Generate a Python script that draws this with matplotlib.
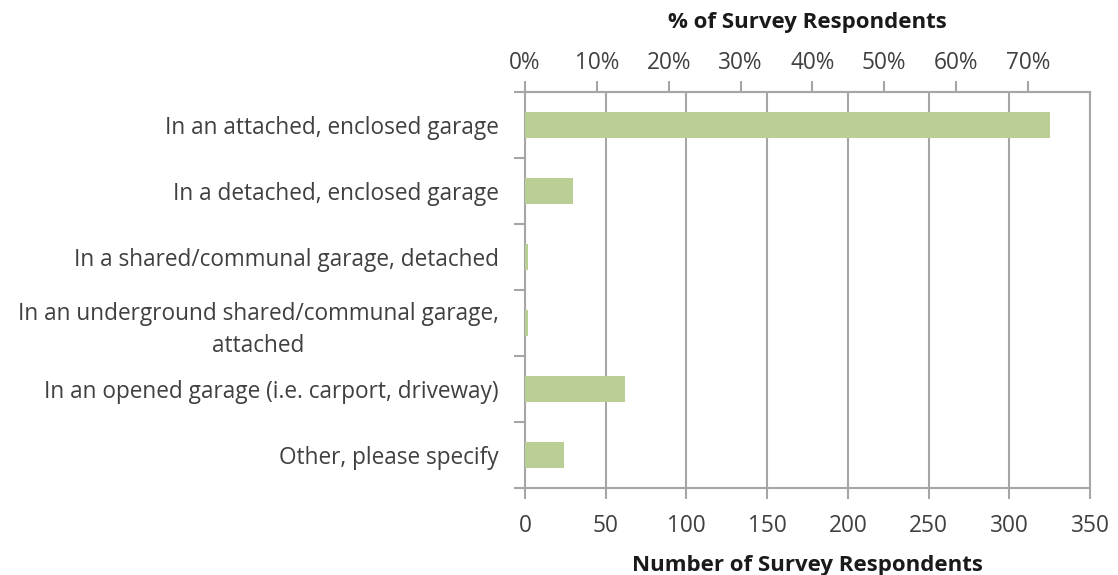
import matplotlib
matplotlib.use("Agg")
import matplotlib.pyplot as plt
import numpy as np

# data
categories = [
    "In an attached, enclosed garage",
    "In a detached, enclosed garage",
    "In a shared/communal garage, detached",
    "In an underground shared/communal garage,\nattached",
    "In an opened garage (i.e. carport, driveway)",
    "Other, please specify",
]
counts = [325, 30, 2, 2, 62, 24]
count_ticks = [0, 50, 100, 150, 200, 250, 300, 350]
pct_ticks = [0, 10, 20, 30, 40, 50, 60, 70]

total = sum(counts)

plt.rcParams['font.family'] = ['Open Sans', 'DejaVu Sans']
txt = '#404040'
grid_c = '#a6a6a6'
bar_c = '#b9cf96'
fs = 16.3

fig = plt.figure(figsize=(11.18, 5.75), dpi=100)
ax = fig.add_axes([525/1118, 87/575, 565/1118, 396/575])

y = np.arange(len(categories))
ax.barh(y, counts, height=0.4, color=bar_c, edgecolor='none', zorder=3)

ax.set_xlim(0, 350)
ax.set_ylim(len(categories) - 0.5, -0.5)
ax.set_xticks(count_ticks)
ax.xaxis.grid(True, color=grid_c, linewidth=1.5, zorder=0)

# category labels in middle, ticks on boundaries
ax.set_yticks(y)
ax.set_yticklabels(categories, fontsize=fs, color=txt, ha='right',
                   multialignment='center', linespacing=1.45)
ax.tick_params(axis='y', which='major', length=0, pad=19)
ax.set_yticks(np.arange(-0.5, len(categories)), minor=True)
ax.tick_params(axis='y', which='minor', length=8, width=1.5, color=grid_c)

ax.tick_params(axis='x', which='major', length=8, width=1.5, color=grid_c,
               labelsize=fs, labelcolor=txt, pad=10.5)
for s in ax.spines.values():
    s.set_color(grid_c)
    s.set_linewidth(1.5)
ax.set_xlabel("Number of Survey Respondents", fontsize=16, fontweight='bold',
              color='#1a1a1a', labelpad=12.5)

# percent axis on top
top = ax.secondary_xaxis('top', functions=(lambda c: c / total * 100,
                                           lambda p: p * total / 100))
top.set_xticks(pct_ticks)
top.set_xticklabels([f"{p}%" for p in pct_ticks])
top.tick_params(length=8, width=1.5, color=grid_c, labelsize=fs,
                labelcolor=txt, pad=4.5)
top.spines['top'].set_color(grid_c)
top.spines['top'].set_linewidth(1.5)
top.set_xlabel("% of Survey Respondents", fontsize=16, fontweight='bold',
               color='#1a1a1a', labelpad=16)

fig.savefig("out.png", dpi=100)
